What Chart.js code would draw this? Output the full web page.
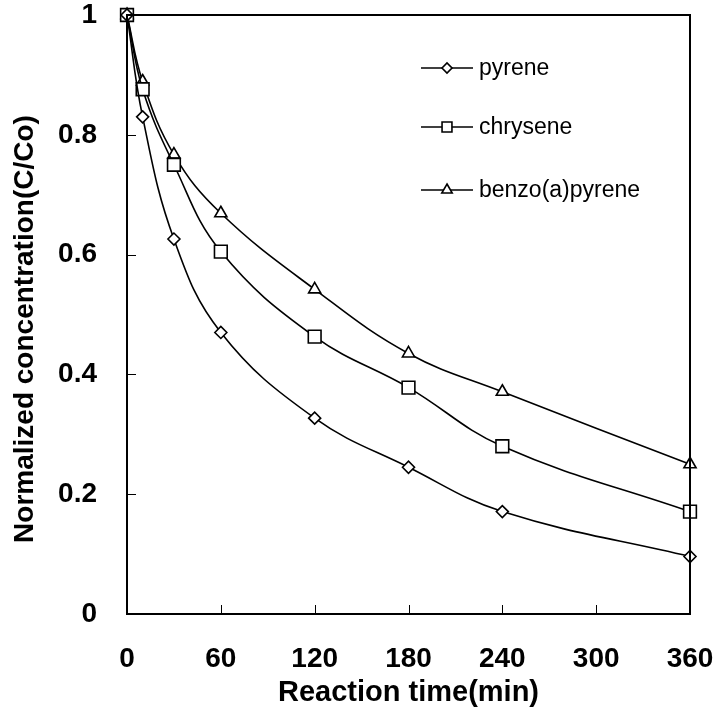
<!DOCTYPE html>
<html>
<head>
<meta charset="utf-8">
<script src="https://cdn.jsdelivr.net/npm/chart.js@4"></script>
<style>
  html, body { margin: 0; padding: 0; background: #fff; }
  #wrap { width: 719px; height: 716px; }
</style>
</head>
<body>
<div id="wrap"><canvas id="decay-chart" width="719" height="716"></canvas></div>
<script>
const times = [0, 10, 30, 60, 120, 180, 240, 360];
const pyrene = [1, 0.83, 0.626, 0.47, 0.327, 0.245, 0.171, 0.096];
const chrysene = [1, 0.876, 0.75, 0.605, 0.463, 0.378, 0.28, 0.171];
const benzoPyrene = [1, 0.889, 0.767, 0.669, 0.542, 0.435, 0.371, 0.25];
const xTicks = [0, 60, 120, 180, 240, 300, 360];
const yTicks = [0, 0.2, 0.4, 0.6, 0.8, 1];
const yTitle = "Normalized concentration(C/Co)";

const FONT = "'Liberation Sans', Arial, sans-serif";

function toPoints(vals) {
  return times.map((t, i) => ({ x: t, y: vals[i] }));
}

function series(label, vals, style, radius) {
  return {
    label,
    data: toPoints(vals),
    borderColor: "#000",
    borderWidth: 1.6,
    pointStyle: style,
    pointRadius: radius,
    pointHoverRadius: radius,
    pointBackgroundColor: "#fff",
    pointBorderColor: "#000",
    pointBorderWidth: 1.6,
    tension: 0.4,
    fill: false,
    clip: false,
  };
}

// labels may hang past the frame, don't let them shrink the plot
function noOverhang(s) {
  s.paddingLeft = 0;
  s.paddingRight = 0;
  s.paddingTop = 0;
  s.paddingBottom = 0;
}

// frame, inward tick marks, y title and the in-plot legend
const framePlugin = {
  id: "frame",
  afterDatasetsDraw(chart) {
    const { ctx, chartArea: a, scales } = chart;
    ctx.save();
    ctx.strokeStyle = "#000";
    ctx.lineWidth = 1;
    xTicks.slice(1, -1).forEach(v => {
      const x = Math.round(scales.x.getPixelForValue(v)) + 0.5;
      ctx.beginPath();
      ctx.moveTo(x, a.bottom);
      ctx.lineTo(x, a.bottom - 9);
      ctx.stroke();
    });
    yTicks.slice(1, -1).forEach(v => {
      const y = Math.round(scales.y.getPixelForValue(v)) + 0.5;
      ctx.beginPath();
      ctx.moveTo(a.left, y);
      ctx.lineTo(a.left + 9, y);
      ctx.stroke();
    });
    ctx.lineWidth = 2;
    ctx.strokeRect(a.left, a.top, a.right - a.left, a.bottom - a.top);

    // y title sits a little below the middle of the axis
    ctx.save();
    ctx.translate(25, 329);
    ctx.rotate(-Math.PI / 2);
    ctx.fillStyle = "#000";
    ctx.font = "bold 28px " + FONT;
    ctx.textAlign = "center";
    ctx.textBaseline = "middle";
    ctx.fillText(yTitle, 0, 0);
    ctx.restore();

    const rows = [68, 127, 190];
    chart.data.datasets.forEach((ds, i) => {
      const y = rows[i];
      ctx.lineWidth = 1.6;
      ctx.beginPath();
      ctx.moveTo(421, y);
      ctx.lineTo(473, y);
      ctx.stroke();
      ctx.fillStyle = "#fff";
      Chart.helpers.drawPoint(ctx, {
        pointStyle: ds.pointStyle,
        radius: ds.pointRadius - (ds.pointStyle === "rect" ? 2 : 1),
        borderWidth: 1.6,
      }, 447, y);
      ctx.fillStyle = "#000";
      ctx.font = "23px " + FONT;
      ctx.textBaseline = "middle";
      ctx.textAlign = "left";
      ctx.fillText(ds.label, 479, y + 1);
    });
    ctx.restore();
  },
};

new Chart(document.getElementById("decay-chart").getContext("2d"), {
  type: "line",
  data: {
    datasets: [
      series("pyrene", pyrene, "rectRot", 6),
      series("chrysene", chrysene, "rect", 9),
      series("benzo(a)pyrene", benzoPyrene, "triangle", 7),
    ],
  },
  options: {
    responsive: false,
    animation: false,
    layout: { padding: { left: 0, right: 29, top: 15, bottom: 0 } },
    plugins: { legend: { display: false }, tooltip: { enabled: false } },
    scales: {
      x: {
        type: "linear",
        min: 0,
        max: 360,
        afterBuildTicks: s => { s.ticks = xTicks.map(v => ({ value: v })); },
        afterFit: s => { s.height = 102; noOverhang(s); },
        grid: { display: false, drawTicks: false },
        border: { display: false },
        ticks: {
          color: "#000",
          padding: 28,
          maxRotation: 0,
          font: { family: FONT, size: 28, weight: "bold" },
        },
        title: {
          display: true,
          text: "Reaction time(min)",
          color: "#000",
          padding: { top: 0, bottom: 6 },
          font: { family: FONT, size: 29, weight: "bold" },
        },
      },
      y: {
        type: "linear",
        min: 0,
        max: 1,
        afterBuildTicks: s => { s.ticks = yTicks.map(v => ({ value: v })); },
        afterFit: s => { s.width = 127; noOverhang(s); },
        grid: { display: false, drawTicks: false },
        border: { display: false },
        ticks: {
          color: "#000",
          padding: 30,
          font: { family: FONT, size: 28, weight: "bold" },
          callback: v => String(v),
        },
      },
    },
  },
  plugins: [framePlugin],
});
</script>
</body>
</html>
